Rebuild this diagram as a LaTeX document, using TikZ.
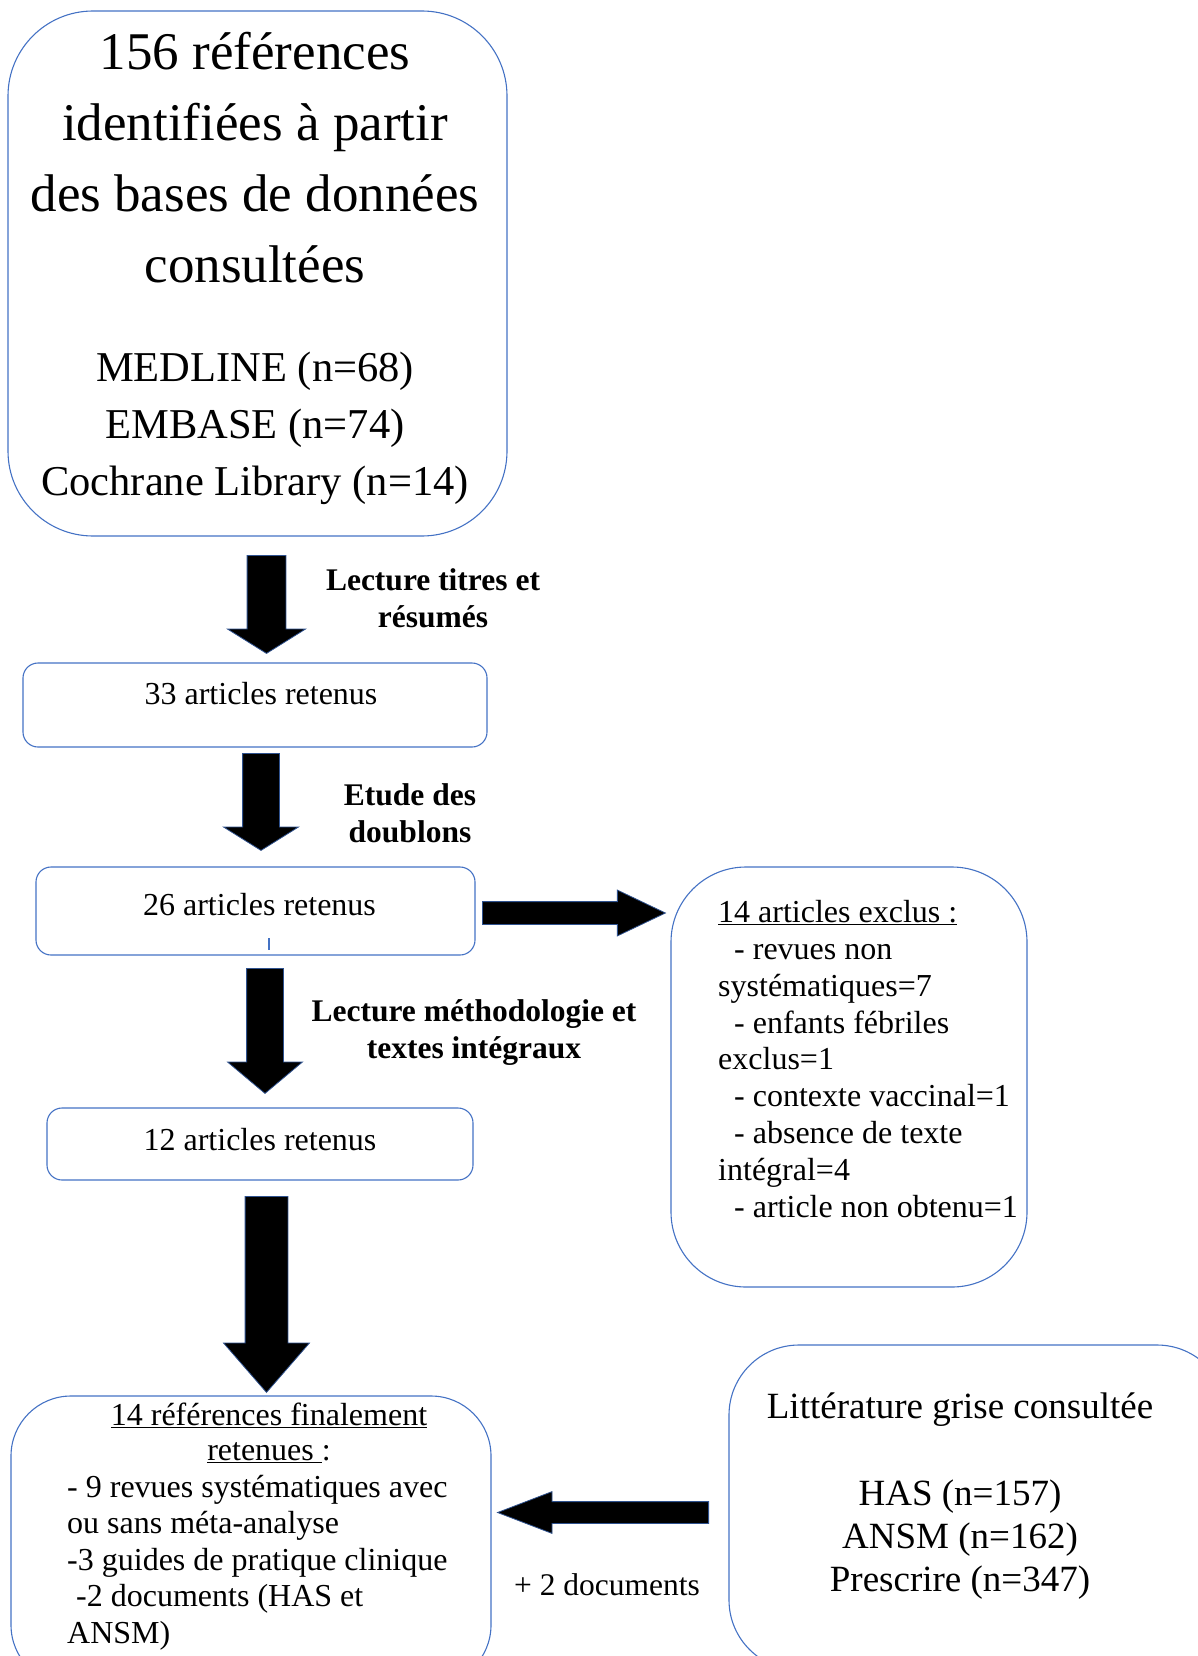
\documentclass[tikz,border=0pt]{standalone}
\usepackage{fontspec}
\setmainfont{Liberation Serif}
\usetikzlibrary{shapes.arrows}
\definecolor{boxblue}{HTML}{4472C4}
\definecolor{edgeblue}{HTML}{2F528F}

\begin{document}
\begin{tikzpicture}[x=1pt,y=-1pt,
box/.style={draw=boxblue,line width=1.1pt,inner sep=0pt},
txt/.style={inner sep=0pt,anchor=base},
lbl/.style={inner sep=0pt,anchor=base,align=center,font=\fontsize{31.5}{36.5}\selectfont\bfseries},
blk/.style={single arrow,draw=edgeblue,fill=black,line width=0.8pt,inner sep=0pt,text depth=0pt,
  single arrow head indent=0pt,anchor=tail}]
\useasboundingbox (0,0) rectangle (1198,1656);

% frames
\node[box,rounded corners=85pt,minimum width=499pt,minimum height=525pt] (src) at (257.5,273.5) {};
\node[box,rounded corners=15pt,minimum width=464pt,text height=41pt,text depth=43pt,
  anchor=base,font=\fontsize{32}{38}\selectfont] (b33) at (255,704) {\hspace*{12pt}33 articles retenus};
\node[box,rounded corners=15pt,minimum width=439pt,text height=48pt,text depth=40pt,
  anchor=base,font=\fontsize{32}{38}\selectfont] (b26) at (255.5,915) {\hspace*{8pt}26 articles retenus};
\node[box,rounded corners=15pt,minimum width=426pt,text height=42pt,text depth=30pt,
  anchor=base,font=\fontsize{32}{38}\selectfont] (b12) at (260,1150) {12 articles retenus};
\node[box,rounded corners=75pt,minimum width=356pt,minimum height=420pt] (excl) at (849,1077) {};
\node[box,rounded corners=60pt,minimum width=480pt,minimum height=289pt] (final) at (251,1540.5) {};
\node[box,rounded corners=70pt,minimum width=498pt,minimum height=325pt] (grey) at (978,1507.5) {};
\draw[boxblue,line width=1.1pt] (269,938) -- (269,950);

% texts (base = last line)
\node[txt,align=center,font=\fontsize{53}{71}\selectfont] (srctitle) at (255,282)
  {156 références\\identifiées à partir\\des bases de données\\consultées};
\node[txt,align=center,font=\fontsize{42.5}{57}\selectfont] (srclist) at (255,495)
  {MEDLINE (n=68)\\EMBASE (n=74)\\Cochrane Library (n=14)};
\node[txt,anchor=base west,align=left,font=\fontsize{32}{36.8}\selectfont] (excltxt) at (718,1217)
  {\underline{14 articles exclus :}\\\hspace*{16pt}- revues non\\systématiques=7\\
   \hspace*{16pt}- enfants fébriles\\exclus=1\\\hspace*{16pt}- contexte vaccinal=1\\
   \hspace*{16pt}- absence de texte\\intégral=4\\\hspace*{16pt}- article non obtenu=1};
\node[txt,align=center,font=\fontsize{32}{35}\selectfont] (fintitle) at (269,1460)
  {\underline{14 références finalement}\\\underline{retenues }:};
\node[txt,anchor=base west,align=left,font=\fontsize{32}{36.5}\selectfont] (finlist) at (67,1643)
  {- 9 revues systématiques avec\\ou sans méta-analyse\\-3 guides de pratique clinique\\
   \hspace*{9pt}-2 documents (HAS et\\ANSM)};
\node[txt,font=\fontsize{37}{43}\selectfont] (greytitle) at (960,1418) {Littérature grise consultée};
\node[txt,align=center,font=\fontsize{37}{43}\selectfont] (greylist) at (960,1591)
  {HAS (n=157)\\ANSM (n=162)\\Prescrire (n=347)};
\node[txt,font=\fontsize{31.5}{36}\selectfont] (plus) at (607,1595) {+ 2 documents};

% step labels
\node[lbl] (l1) at (433,627) {Lecture titres et\\résumés};
\node[lbl] (l2) at (410,842) {Etude des\\doublons};
\node[lbl] (l3) at (474,1058) {Lecture méthodologie et\\textes intégraux};

% block arrows, placed by their tails
\node[blk,rotate=-90,minimum height=98pt,text height=38pt,single arrow head extend=19.5pt,
  single arrow tip angle=116] (a1) at (266.5,555) {};
\node[blk,rotate=-90,minimum height=97pt,text height=36pt,single arrow head extend=19pt,
  single arrow tip angle=116] (a2) at (261,753) {};
\node[blk,rotate=-90,minimum height=125pt,text height=36pt,single arrow head extend=19pt,
  single arrow tip angle=100] (a3) at (265,968) {};
\node[blk,rotate=-90,minimum height=196pt,text height=42pt,single arrow head extend=21.5pt,
  single arrow tip angle=82] (a4) at (266.5,1196) {};
\node[blk,minimum height=183pt,text height=22pt,single arrow head extend=11.5pt,
  single arrow tip angle=51] (aR) at (482,913) {};
\node[blk,rotate=180,minimum height=211pt,text height=21pt,single arrow head extend=10pt,
  single arrow tip angle=42] (aL) at (709,1512.5) {};
\end{tikzpicture}
\end{document}
